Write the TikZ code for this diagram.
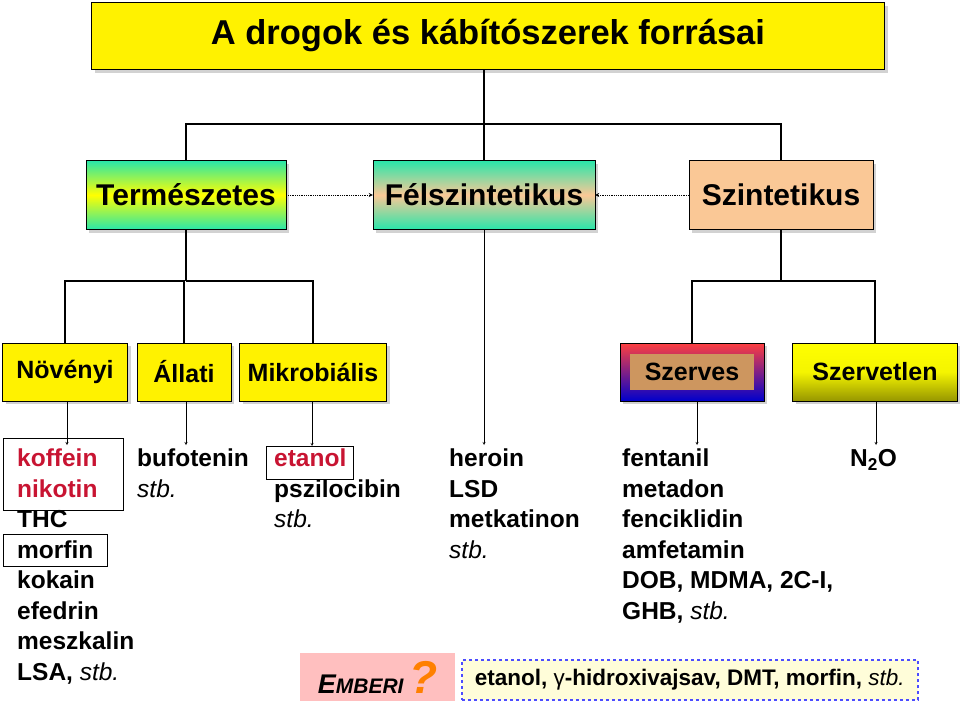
\documentclass[tikz,border=0pt]{standalone}
\usepackage{fontspec}
\setmainfont{Liberation Sans}
\usetikzlibrary{shadows,positioning}
\definecolor{mint}{RGB}{40,230,170}
\definecolor{peach}{RGB}{250,200,150}
\definecolor{drugred}{RGB}{200,20,50}
\definecolor{olive}{RGB}{150,150,0}
\definecolor{tan}{RGB}{205,150,95}
\newcommand{\etc}{{\mdseries\itshape stb.}}
\begin{document}
\begin{tikzpicture}[x=1pt,y=-1pt,
        font=\bfseries,
        box/.style={draw, rectangle, inner sep=0pt, drop shadow={shadow xshift=3pt, shadow yshift=-3pt, fill=gray!70}},
        yellowbox/.style={box, fill=yellow, font=\bfseries\fontsize{25}{27}\selectfont},
        catbox/.style={box, font=\bfseries\fontsize{30}{32}\selectfont},
        item/.style={anchor=north west, align=left, inner sep=0pt, font=\bfseries\fontsize{24.5}{30.5}\selectfont},
        conn/.style={line width=2.5pt},
        link/.style={-stealth, thin}
    ]
        \useasboundingbox (0,0) rectangle (960,707);
        % Title
        \node (title) [box, fill=yellow, minimum width=793pt, minimum height=67pt, font=\bfseries\fontsize{34.5}{36}\selectfont] at (488,36) {A drogok és kábítószerek forrásai};

        % Main categories
        \node (term) [catbox, top color=mint, bottom color=mint, middle color=yellow, minimum width=200pt, minimum height=69pt] at (186,195) {Természetes};
        \node (felsz) [catbox, top color=mint, bottom color=mint, middle color=peach, minimum width=222pt, minimum height=69pt] at (484,195) {Félszintetikus};
        \node (szint) [catbox, fill=peach, minimum width=184pt, minimum height=69pt] at (781,195) {Szintetikus};
        \draw[densely dotted, thick, -stealth] (term) -- (felsz);
        \draw[densely dotted, thick, -stealth] (szint) -- (felsz);

        % Sub categories
        \node (noveny) [yellowbox, minimum width=125pt, minimum height=58pt] at (65,372) {Növényi};
        \node (allat) [yellowbox, minimum width=94pt, minimum height=58pt] at (184,372) {Állati};
        \node (mikrob) [yellowbox, minimum width=147pt, minimum height=58pt] at (313,372) {Mikrobiális};
        \node (szerv) [box, top color=red!75, bottom color=blue!80!black, minimum width=144pt, minimum height=58pt] at (692,372) {};
        \node (szervin) [fill=tan, minimum width=124pt, minimum height=36pt, inner sep=0pt, font=\bfseries\fontsize{25}{27}\selectfont] at (szerv) {Szerves};
        \node (szvtl) [box, top color=yellow, bottom color=olive, middle color=yellow!90!olive, minimum width=165pt, minimum height=58pt, font=\bfseries\fontsize{25}{27}\selectfont] at (875,372) {Szervetlen};

        % Tree lines
        \coordinate (bar) at (484,124);
        \draw[conn] (title.south -| bar) -- (bar);
        \draw[conn] (term.north) |- (bar) -| (szint.north);
        \draw[conn] (bar) -- (felsz.north);
        \draw[conn] (term.south) -- (186,281);
        \draw[conn] (noveny.north) |- (allat.north |- 0,281) -- (allat.north);
        \draw[conn] (186,281) -| (mikrob.north);
        \draw[conn] (szint.south) -- (781,281);
        \draw[conn] (szerv.north) |- (szvtl.north |- 0,281) -- (szvtl.north);

        % Lists
        \node (natlist) [item] at (17,449) {\textcolor{drugred}{koffein}\\\textcolor{drugred}{nikotin}\\THC\\morfin\\kokain\\efedrin\\meszkalin\\LSA, \etc};
        \node (anilist) [item] at (137,449) {bufotenin\\\etc};
        \node (miklist) [item] at (274,449) {\textcolor{drugred}{etanol}\\pszilocibin\\\etc};
        \node (semlist) [item] at (449,449) {heroin\\LSD\\metkatinon\\\etc};
        \node (orglist) [item] at (622,449) {fentanil\\metadon\\fenciklidin\\amfetamin\\DOB, MDMA, 2C-I,\\GHB, \etc};
        \node (inolist) [item] at (850,449) {N\textsubscript{2}O};
        \draw (3,438) rectangle (123,510);
        \draw (3,534) rectangle (107,566);
        \draw (266,446) rectangle (353,479);

        % Arrows
        \draw[link] (noveny.south -| 67,0) -- (67,445);
        \draw[link] (allat.south -| 186,0) -- (186,445);
        \draw[link] (mikrob.south -| 312,0) -- (312,446);
        \draw[link] (felsz.south) -- (484,445);
        \draw[link] (szerv.south -| 697,0) -- (697,445);
        \draw[link] (szvtl.south -| 876,0) -- (876,445);

        % Human
        \node (emberi) [fill=red!25, minimum width=155pt, minimum height=48pt, inner sep=0pt, anchor=west, font=\bfseries\itshape\fontsize{27}{29}\selectfont] at (300,677) {E\fontsize{21}{24}\selectfont MBERI \textcolor{orange}{\fontsize{46}{46}\selectfont ?}};
        \node (humlist) [draw=blue!70, dashed, line width=1.5pt, fill=yellow!15, minimum width=456pt, minimum height=40pt, inner sep=0pt, anchor=west, font=\bfseries\fontsize{22.5}{25}\selectfont] at (461,680) {etanol, {\mdseries γ}-hidroxivajsav, DMT, morfin, \etc};
\end{tikzpicture}
\end{document}
